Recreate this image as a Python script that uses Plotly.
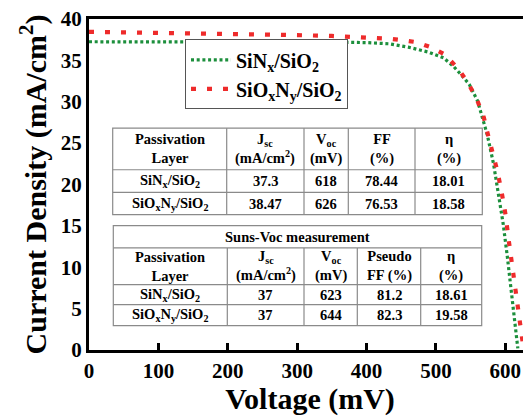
import plotly.graph_objects as go

# ---------------- data ----------------
v_sinx = [0, 50, 100, 150, 200, 250, 300, 350, 400, 433, 460, 489, 511, 525, 536, 548,
          560, 567, 574, 583, 590, 597, 603, 609, 614, 618]
j_sinx = [37.25, 37.25, 37.25, 37.25, 37.25, 37.25, 37.2, 37.2, 37.15, 37.0, 36.6, 36.0,
          35.3, 34.3, 33.3, 32.1, 30.1, 28.0, 26.0, 22.5, 19.0, 15.2, 11.2, 6.8, 2.8, 0.2]

v_sioxny = [0, 50, 100, 150, 200, 250, 300, 350, 400, 435, 455, 472, 492, 513, 533, 546,
            559, 569, 575, 582, 588, 594, 600, 605, 610, 614, 617, 620, 624, 626]
j_sioxny = [38.45, 38.4, 38.3, 38.25, 38.2, 38.1, 38.05, 37.95, 37.8, 37.6, 37.4, 37.2,
            36.6, 35.7, 33.9, 32.3, 30.3, 28.1, 26.0, 23.8, 21.8, 19.4, 16.5, 13.2, 10.3,
            8.0, 6.0, 3.9, 1.6, 0.3]

series_names = ["SiN<sub>x</sub>/SiO<sub>2</sub>",
                "SiO<sub>x</sub>N<sub>y</sub>/SiO<sub>2</sub>"]

x_ticks = [0, 100, 200, 300, 400, 500, 600]
y_ticks = [0, 5, 10, 15, 20, 25, 30, 35, 40]

tab1_header = ["Passivation<br>Layer", "J<sub>sc</sub><br>(mA/cm<sup>2</sup>)",
               "V<sub>oc</sub><br>(mV)", "FF<br>(%)", "η<br>(%)"]
tab1_rows = [[series_names[0], "37.3", "618", "78.44", "18.01"],
             [series_names[1], "38.47", "626", "76.53", "18.58"]]

tab2_title = "Suns-Voc measurement"
tab2_header = ["Passivation<br>Layer", "J<sub>sc</sub><br>(mA/cm<sup>2</sup>)",
               "V<sub>oc</sub><br>(mV)", "Pseudo<br>FF (%)", "η<br>(%)"]
tab2_rows = [[series_names[0], "37", "623", "81.2", "18.61"],
             [series_names[1], "37", "644", "82.3", "19.58"]]

# ---------------- layout constants (page pixels) ----------------
PAGE_OFF = 8                      # default body margin of the html page
W, H = 531 - PAGE_OFF, 416 - PAGE_OFF
PL, PT, PB = 89, 19, 350.5        # plot area edges in page pixels
ML, MT, MR = PL - PAGE_OFF, PT - PAGE_OFF, 0
MB = H - (PB - PAGE_OFF)
PW, PH = W - ML - MR, H - MT - MB
FONT = "Liberation Serif"
GREEN = "#1c8f3c"
RED = "#ee2b2b"
GRID = "#8a8a8a"


def px(x):
    return (x - PL) / PW


def py(y):
    return (PB - y) / PH


fig = go.Figure()
fig.add_trace(go.Scatter(x=v_sinx, y=j_sinx, mode="lines", name=series_names[0],
                         line=dict(color=GREEN, width=3.2, dash="3px,2.7px")))
fig.add_trace(go.Scatter(x=v_sioxny, y=j_sioxny, mode="lines", name=series_names[1],
                         line=dict(color=RED, width=4.2, dash="5px,11px")))

shapes = []
annotations = []


def cell_text(x0, x1, y0, y1, text):
    annotations.append(dict(x=px((x0 + x1) / 2), y=py((y0 + y1) / 2), xref="paper",
                            yref="paper", text=text, showarrow=False, xanchor="center",
                            yanchor="middle",
                            font=dict(family=FONT, size=14.5, color="black", weight="bold")))


def draw_table(cols, rows, header, body, title=None):
    x0, x1 = cols[0], cols[-1]
    y0, y1 = rows[0], rows[-1]
    shapes.append(dict(type="rect", xref="paper", yref="paper", x0=px(x0), x1=px(x1),
                       y0=py(y0), y1=py(y1), fillcolor="white",
                       line=dict(color=GRID, width=1.2), layer="above"))
    r = rows
    start = 0
    if title is not None:
        cell_text(x0, x1, r[0], r[1], title)
        shapes.append(dict(type="line", xref="paper", yref="paper", x0=px(x0), x1=px(x1),
                           y0=py(r[1]), y1=py(r[1]), line=dict(color=GRID, width=1.2)))
        start = 1
    for yy in r[start + 1:-1]:
        shapes.append(dict(type="line", xref="paper", yref="paper", x0=px(x0), x1=px(x1),
                           y0=py(yy), y1=py(yy), line=dict(color=GRID, width=1.2)))
    for xx in cols[1:-1]:
        shapes.append(dict(type="line", xref="paper", yref="paper", x0=px(xx), x1=px(xx),
                           y0=py(r[start]), y1=py(y1), line=dict(color=GRID, width=1.2)))
    lines = [header] + body
    for i, row in enumerate(lines):
        for j, t in enumerate(row):
            cell_text(cols[j], cols[j + 1], r[start + i], r[start + i + 1], t)


T1_COLS = [112.7, 226.7, 304, 348.3, 415, 482.3]
T1_ROWS = [128.3, 170, 192.7, 215]
T2_COLS = [113.3, 227.3, 304, 357.3, 420.7, 481.7]
T2_ROWS = [226, 248.3, 285, 305, 326]

draw_table(T1_COLS, T1_ROWS, tab1_header, tab1_rows)
draw_table(T2_COLS, T2_ROWS, tab2_header, tab2_rows, title=tab2_title)

axis_font = dict(family=FONT, size=21, color="black", weight="bold")
title_font = dict(family=FONT, size=30, color="black", weight="bold")

fig.update_layout(
    width=W, height=H,
    margin=dict(l=ML, r=MR, t=MT, b=MB, autoexpand=False),
    paper_bgcolor="white", plot_bgcolor="white",
    shapes=shapes, annotations=annotations,
    showlegend=True,
    legend=dict(x=px(185), y=py(39.5), xanchor="left", yanchor="top",
                bgcolor="white", bordercolor="#555555", borderwidth=1,
                font=dict(family=FONT, size=20, color="black", weight="bold"),
                itemwidth=40, tracegroupgap=0),
    xaxis=dict(range=[0, 637], tickvals=x_ticks, ticktext=[str(v) for v in x_ticks],
               ticks="inside", ticklen=7, tickwidth=2.5, tickcolor="black",
               showline=True, linecolor="black", linewidth=3, mirror=True,
               showgrid=False, zeroline=False, tickfont=axis_font,
               ticklabeloverflow="allow",
               title=dict(text="Voltage (mV)", font=title_font, standoff=8)),
    yaxis=dict(range=[0, 40], tickvals=y_ticks, ticktext=[str(v) for v in y_ticks],
               ticks="", showline=True, linecolor="black", linewidth=3,
               showgrid=False, zeroline=False, tickfont=axis_font,
               ticklabeloverflow="allow",
               title=dict(text="Current Density (mA/cm<sup>2</sup>)", font=title_font,
                          standoff=6)),
)

fig.write_html("out.html")
